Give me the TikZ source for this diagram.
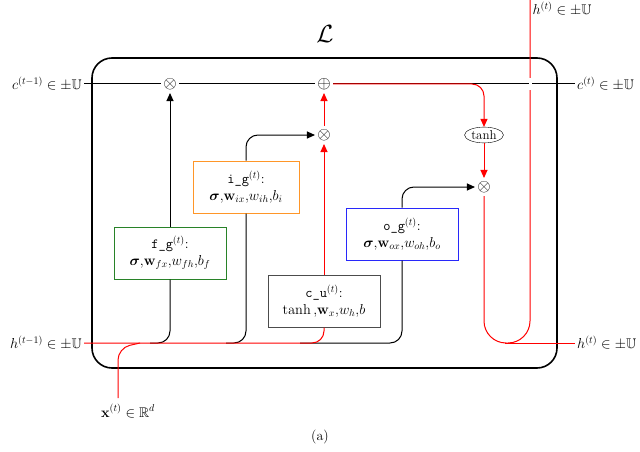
\documentclass[tikz,border=0pt]{standalone}
\usepackage{amsmath,amssymb}
\usetikzlibrary{arrows.meta,shapes.geometric}
\definecolor{myorange}{RGB}{255,150,40}
\definecolor{mygreen}{RGB}{40,130,40}
\definecolor{myblue}{RGB}{40,40,250}
\begin{document}
\begin{tikzpicture}[x=1pt,y=-1pt,
  ln/.style={line width=1pt,rounded corners=12pt},
  rd/.style={ln,red},
  arr/.style={-{Triangle[length=8pt,width=7pt]}},
  op/.style={inner sep=0pt,fill=white,circle,font=\fontsize{16}{16}\selectfont},
  gate/.style={draw,line width=1pt,fill=white,align=center,minimum width=112pt,minimum height=52pt,font=\fontsize{14}{17}\selectfont},
  lab/.style={font=\fontsize{14}{16}\selectfont}]
\useasboundingbox (0,0) rectangle (640,452);
\draw[line width=1.6pt,rounded corners=20pt] (92,58) rectangle (557,368);
\node[font=\fontsize{26}{28}\selectfont] (L) at (325,34) {$\mathcal{L}$};
\coordinate (cL) at (84,84); \coordinate (cR) at (575,84);
\coordinate (hL) at (84,343); \coordinate (hR) at (575,343);
\coordinate (xb) at (118,398);
\node[lab,anchor=east,inner sep=2pt] (cin) at (cL) {$c^{(t-1)}\in\pm\mathbb{U}$};
\node[lab,anchor=west,inner sep=2pt] (cout) at (cR) {$c^{(t)}\in\pm\mathbb{U}$};
\node[lab,anchor=east,inner sep=2pt] (hin) at (hL) {$h^{(t-1)}\in\pm\mathbb{U}$};
\node[lab,anchor=west,inner sep=2pt] (hout) at (hR) {$h^{(t)}\in\pm\mathbb{U}$};
\node[lab] (htop) at (562,9) {$h^{(t)}\in\pm\mathbb{U}$};
\node[lab] (xin) at (128,411) {$\mathbf{x}^{(t)}\in\mathbb{R}^d$};
\node[lab] (cap) at (320,437) {(a)};
\node[op] (fm) at (170,84) {$\otimes$};
\node[op] (pl) at (324,84) {$\oplus$};
\node[op] (im) at (324,135) {$\otimes$};
\node[draw,ellipse,inner sep=1pt,font=\fontsize{13}{15}\selectfont] (th) at (484,135) {tanh};
\node[op] (om) at (484,187) {$\otimes$};
\draw[line width=1pt] (cL) -- (fm) -- (pl) -- (cR);
\node[gate,draw=mygreen] (fg) at (170,253) {\texttt{f\_g}$^{(t)}$:\\ $\boldsymbol{\sigma}{,}\mathbf{w}_{fx}{,}w_{fh}{,}b_f$};
\node[gate,draw=myorange,minimum width=106pt] (ig) at (246,187) {\texttt{i\_g}$^{(t)}$:\\ $\boldsymbol{\sigma}{,}\mathbf{w}_{ix}{,}w_{ih}{,}b_i$};
\node[gate,draw=black!70] (cu) at (324,301) {\texttt{c\_u}$^{(t)}$:\\ $\tanh{,}\mathbf{w}_{x}{,}w_{h}{,}b$};
\node[gate,draw=myblue] (og) at (402,234) {\texttt{o\_g}$^{(t)}$:\\ $\boldsymbol{\sigma}{,}\mathbf{w}_{ox}{,}w_{oh}{,}b_o$};
\draw[ln] (150,343) -- (170,343) -- (fg.south);
\draw[ln,arr] (fg.north) -- (fm);
\draw[ln] (226,343) -- (246,343) -- (ig.south);
\draw[ln,arr] (ig.north) -- (246,135) -- (im);
\draw[ln] (300,343) -- (402,343) -- (og.south);
\draw[ln,arr] (og.north) -- (402,187) -- (om);
\draw[rd] (hL) -- (324,343) -- (cu.south);
\draw[rd] (xb) -- (118,348) -- (140,343);
\draw[rd,arr] (cu.north) -- (im);
\draw[rd,arr] (im) -- (pl);
\draw[rd,arr] (pl) -- (484,84) -- (th);
\draw[rd,arr] (th) -- (om);
\draw[red,line width=1pt,rounded corners=22pt] (om) -- (484,343) -- (530,343) -- (530,0);
\draw[rd] (505,343) -- (hR);
\draw[white,line width=3pt] (530,78) -- (530,90);
\end{tikzpicture}
\end{document}
